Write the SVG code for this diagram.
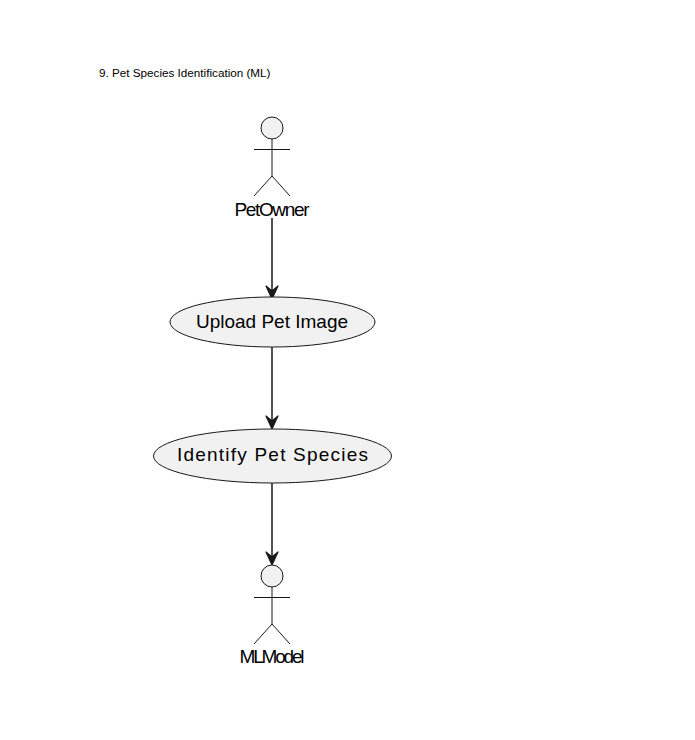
<svg xmlns="http://www.w3.org/2000/svg" width="695" height="740" viewBox="0 0 695 740">
<style>
text{font-family:"Liberation Sans",Arial,sans-serif;fill:#000}
.a{fill:none;stroke:#181818;stroke-width:1}
.h{fill:#f1f1f1;stroke:#181818;stroke-width:1}
.c{fill:none;stroke:#181818;stroke-width:1.5}
.u{fill:#181818;stroke:#181818;stroke-width:1.2;stroke-linejoin:round}
</style>
<defs>
<g id="actor"><circle class="h" cx="0" cy="0" r="11"/><path class="a" d="M0 11V48M-18 21.500H18M0 48L-18 68M0 48L18 68"/></g>
</defs>
<rect width="695" height="740" fill="#fff"/>
<text id="title" x="99" y="77" font-size="11.700">9. Pet Species Identification (ML)</text>
<g id="connectors">
<path class="c" d="M272 218V296"/><path class="u" d="M272 299L266 286L272 291L278 286Z"/>
<path class="c" d="M272 347V426"/><path class="u" d="M272 429L266 416L272 421L278 416Z"/>
<path class="c" d="M272 483V562"/><path class="u" d="M272 565L266 552L272 557L278 552Z"/>
</g>
<g id="PetOwner"><use href="#actor" x="272" y="128"/><text x="272" y="216" font-size="19" text-anchor="middle" textLength="75">PetOwner</text></g>
<g id="UploadPetImage"><ellipse class="h" cx="272.500" cy="322" rx="102.500" ry="25"/><text x="272" y="328" font-size="19" text-anchor="middle">Upload Pet Image</text></g>
<g id="IdentifyPetSpecies"><ellipse class="h" cx="272.500" cy="456" rx="119" ry="27"/><text x="272.500" y="461" font-size="19" text-anchor="middle" textLength="191">Identify Pet Species</text></g>
<g id="MLModel"><use href="#actor" x="272" y="576"/><text x="272" y="663" font-size="19" text-anchor="middle" textLength="65">MLModel</text></g>
</svg>
